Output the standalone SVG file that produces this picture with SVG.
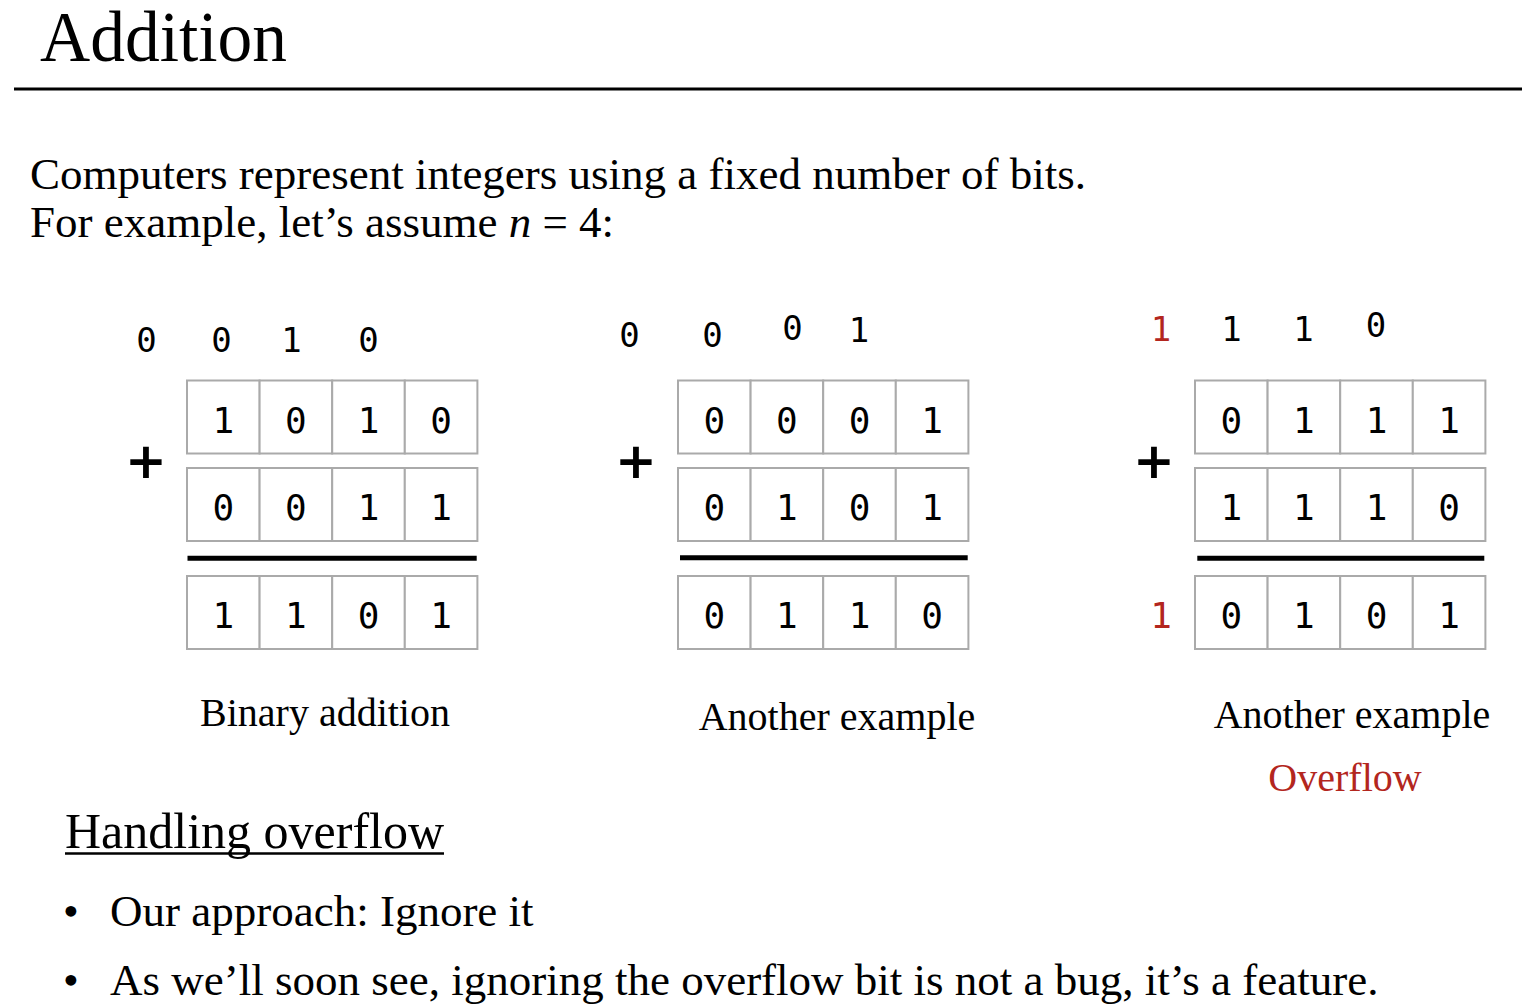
<svg xmlns="http://www.w3.org/2000/svg" width="1522" height="1005" viewBox="0 0 1522 1005">
<style>
.serif{font-family:"Liberation Serif","Times New Roman",serif;fill:#000}
.body{font-size:45px}
.label{font-size:40px}
.mono{font-family:"DejaVu Sans Mono","Liberation Mono",monospace;font-size:36px;fill:#000;text-anchor:middle}
.carry{font-size:34px}
.red{fill:#b3261e}
.cell{fill:#fff;stroke:#aaaaaa;stroke-width:2}
.bar{stroke:#000;stroke-width:5}
.plus{font-family:"DejaVu Sans",sans-serif;font-weight:bold;font-size:50px;text-anchor:middle;fill:#000}
</style>
<defs>
<g id="row">
<rect class="cell" x="0" y="0" width="72.6" height="73"/>
<rect class="cell" x="72.6" y="0" width="72.6" height="73"/>
<rect class="cell" x="145.2" y="0" width="72.6" height="73"/>
<rect class="cell" x="217.8" y="0" width="72.6" height="73"/>
</g>
</defs>
<rect width="1522" height="1005" fill="#fff"/>
<g id="title">
<text class="serif" x="40" y="61" font-size="72" textLength="247" lengthAdjust="spacingAndGlyphs">Addition</text>
<line x1="14" y1="89" x2="1522" y2="89" stroke="#000" stroke-width="3"/>
</g>
<g id="intro">
<text class="serif body" x="30" y="189">Computers represent integers using a fixed number of bits.</text>
<text class="serif body" x="30" y="237">For example, let’s assume <tspan font-style="italic">n</tspan> = 4:</text>
</g>
<g id="example1">
<text class="mono carry" y="352"><tspan x="146.5">0</tspan><tspan x="221.5">0</tspan><tspan x="291.5">1</tspan><tspan x="368.5">0</tspan></text>
<text class="plus" x="146" y="478">+</text>
<use href="#row" x="187" y="380.5"/>
<use href="#row" x="187" y="468"/>
<line class="bar" x1="187.5" y1="558.3" x2="476.7" y2="558.3"/>
<use href="#row" x="187" y="576"/>
<text class="mono" y="432.5"><tspan x="223.3">1</tspan><tspan x="295.9">0</tspan><tspan x="368.5">1</tspan><tspan x="441.1">0</tspan></text>
<text class="mono" y="520"><tspan x="223.3">0</tspan><tspan x="295.9">0</tspan><tspan x="368.5">1</tspan><tspan x="441.1">1</tspan></text>
<text class="mono" y="627.5"><tspan x="223.3">1</tspan><tspan x="295.9">1</tspan><tspan x="368.5">0</tspan><tspan x="441.1">1</tspan></text>
<text class="serif label" x="325" y="726" text-anchor="middle">Binary addition</text>
</g>
<g id="example2">
<text class="mono carry"><tspan x="629.5" y="347">0</tspan><tspan x="712.5" y="347">0</tspan><tspan x="792.5" y="340">0</tspan><tspan x="859" y="342">1</tspan></text>
<text class="plus" x="636" y="478">+</text>
<use href="#row" x="678" y="380.5"/>
<use href="#row" x="678" y="468"/>
<line class="bar" x1="680" y1="557.7" x2="967.7" y2="557.7"/>
<use href="#row" x="678" y="576"/>
<text class="mono" y="432.5"><tspan x="714.3">0</tspan><tspan x="786.9">0</tspan><tspan x="859.5">0</tspan><tspan x="932.1">1</tspan></text>
<text class="mono" y="520"><tspan x="714.3">0</tspan><tspan x="786.9">1</tspan><tspan x="859.5">0</tspan><tspan x="932.1">1</tspan></text>
<text class="mono" y="627.5"><tspan x="714.3">0</tspan><tspan x="786.9">1</tspan><tspan x="859.5">1</tspan><tspan x="932.1">0</tspan></text>
<text class="serif label" x="837" y="730" text-anchor="middle">Another example</text>
</g>
<g id="example3">
<text class="mono carry"><tspan class="red" x="1161" y="341">1</tspan><tspan x="1231.5" y="341">1</tspan><tspan x="1303.5" y="341">1</tspan><tspan x="1376" y="337">0</tspan></text>
<text class="plus" x="1154" y="478">+</text>
<use href="#row" x="1195" y="380.5"/>
<use href="#row" x="1195" y="468"/>
<line class="bar" x1="1197.3" y1="558.3" x2="1484.3" y2="558.3"/>
<use href="#row" x="1195" y="576"/>
<text class="mono" y="432.5"><tspan x="1231.3">0</tspan><tspan x="1303.9">1</tspan><tspan x="1376.5">1</tspan><tspan x="1449.1">1</tspan></text>
<text class="mono" y="520"><tspan x="1231.3">1</tspan><tspan x="1303.9">1</tspan><tspan x="1376.5">1</tspan><tspan x="1449.1">0</tspan></text>
<text class="mono" y="627.5"><tspan class="red" x="1161">1</tspan><tspan x="1231.3">0</tspan><tspan x="1303.9">1</tspan><tspan x="1376.5">0</tspan><tspan x="1449.1">1</tspan></text>
<text class="serif label" x="1352" y="728" text-anchor="middle">Another example</text>
<text class="serif label red" x="1345" y="791" text-anchor="middle">Overflow</text>
</g>
<g id="handling">
<text class="serif" x="65" y="848" font-size="50">Handling overflow</text>
<line x1="65" y1="853.5" x2="444" y2="853.5" stroke="#000" stroke-width="2.5"/>
<text class="serif body" x="63" y="926">•</text>
<text class="serif body" x="110" y="926">Our approach: Ignore it</text>
<text class="serif body" x="63" y="995">•</text>
<text class="serif body" x="110" y="995">As we’ll soon see, ignoring the overflow bit is not a bug, it’s a feature.</text>
</g>
</svg>
